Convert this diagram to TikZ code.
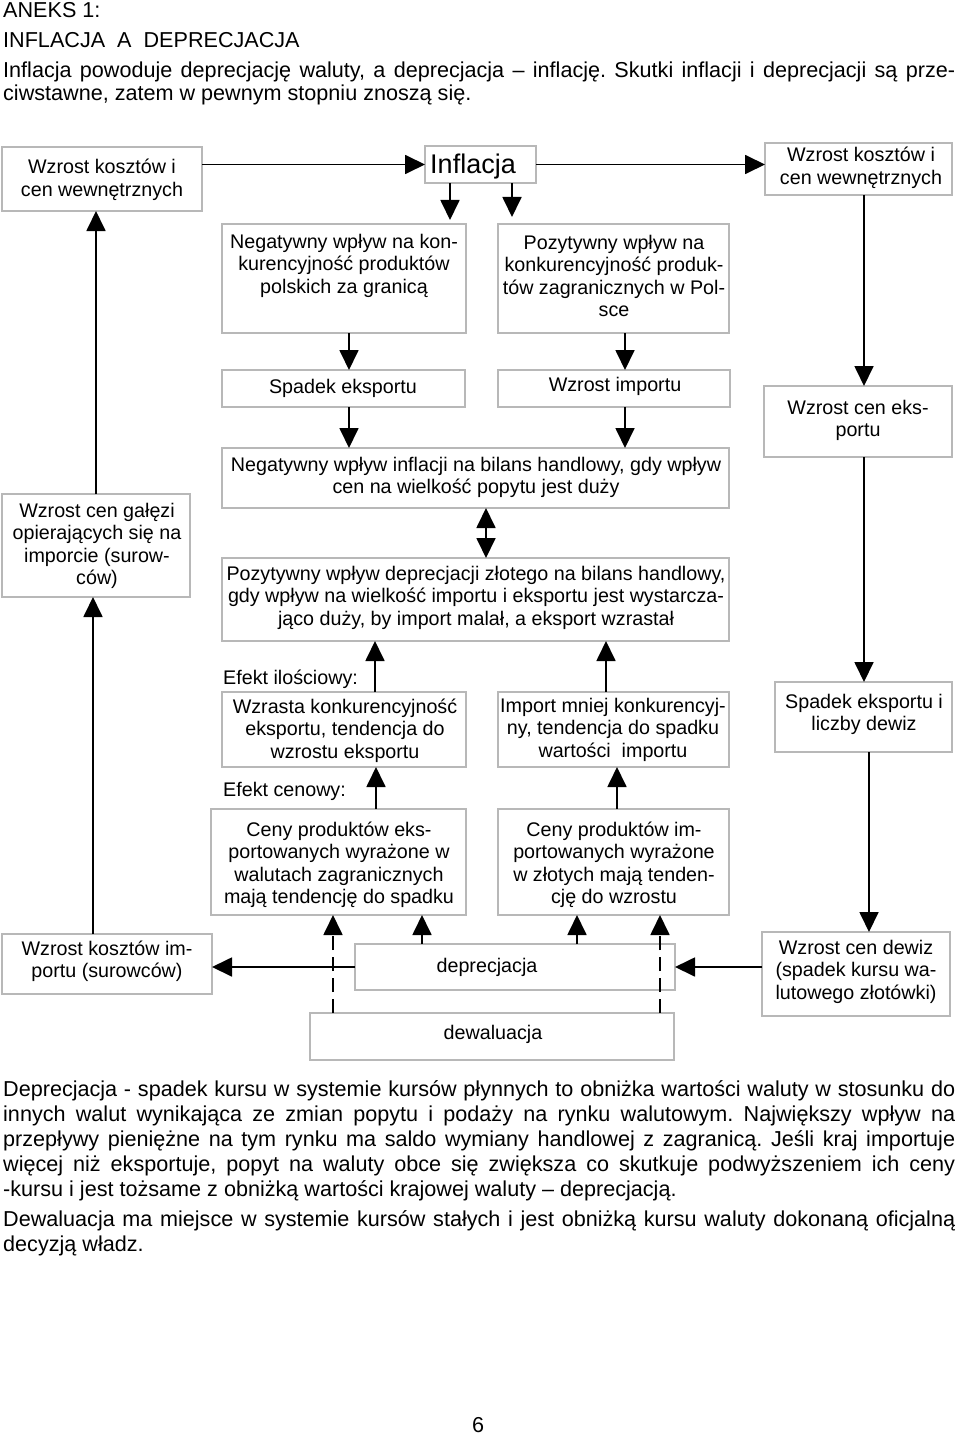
\documentclass[tikz,border=0pt]{standalone}
\usepackage{fontspec}
\setmainfont{Liberation Sans}
\usetikzlibrary{arrows.meta,calc}
\frenchspacing
\newcommand{\mybxfont}{\fontsize{19.7}{22.5}\selectfont}
\newcommand{\myparfont}{\fontsize{21.6}{25}\selectfont}
\newcommand{\bx}[5]{\node[box,minimum width={#4-#2},minimum height={#5-#3}] (#1) at (#2,#3) {};}
\newcommand{\jl}[1]{\makebox[952pt][s]{#1}}
\begin{document}
\begin{tikzpicture}[x=1pt,y=-1pt,
  box/.style={draw=black!28, line width=1.3pt, inner sep=0pt, outer sep=0pt, anchor=north west},
  txt/.style={inner sep=0pt, anchor=base, align=center, font=\mybxfont},
  lbl/.style={inner sep=0pt, anchor=base west, font=\mybxfont},
  ptxt/.style={inner sep=0pt, anchor=base west, font=\myparfont},
  arr/.style={line width=1.8pt, -{Triangle[length=20pt,width=19pt]}},
  darr/.style={line width=1.8pt, {Triangle[length=20pt,width=19pt]}-{Triangle[length=20pt,width=19pt]}},
  dsh/.style={arr, dash pattern=on 14pt off 7pt},
]
\useasboundingbox (0,0) rectangle (960,1434);
\fill[white] (0,0) rectangle (960,1434);

% header
\node[ptxt] (h1) at (3,18) {ANEKS 1:};
\node[ptxt] (h2) at (3,48) {INFLACJA \ A \ DEPRECJACJA};
\node[ptxt] (h3) at (3,78) {\jl{Inflacja powoduje deprecjację waluty, a deprecjacja – inflację. Skutki inflacji i deprecjacji są prze-}};
\node[ptxt] (h4) at (3,101) {ciwstawne, zatem w pewnym stopniu znoszą się.};

% boxes
\bx{A}{2}{147}{202}{211}
\bx{Inf}{425}{146}{536}{183}
\bx{B}{765}{143}{952}{195}
\bx{C}{222}{224}{466}{333}
\bx{D}{498}{224}{729}{333}
\bx{E}{222}{370}{465}{407}
\bx{F}{498}{370}{730}{407}
\bx{G}{222}{448}{729}{508}
\bx{H}{222}{558}{729}{641}
\bx{I}{764}{386}{952}{457}
\bx{J}{2}{494}{190}{597}
\bx{K}{222}{692}{466}{767}
\bx{L}{498}{692}{729}{767}
\bx{M}{775}{682}{952}{752}
\bx{N}{211}{809}{466}{915}
\bx{O}{498}{809}{729}{915}
\bx{P}{2}{934}{212}{994}
\bx{Q}{355}{944}{675}{990}
\bx{R}{762}{932}{950}{1016}
\bx{S}{310}{1013}{674}{1060}

% texts (anchor base = baseline of the last line)
\node[txt] (tA) at (102,196.5) {Wzrost kosztów i\\cen wewnętrznych};
\node[inner sep=0pt, anchor=base, font=\fontsize{27}{30}\selectfont] (tInf) at (473,174) {Inflacja};
\node[txt] (tB) at (861,184.5) {Wzrost kosztów i\\cen wewnętrznych};
\node[txt] (tC) at (344,293) {Negatywny wpływ na kon-\\kurencyjność produktów\\polskich za granicą};
\node[txt] (tD) at (614,316.5) {Pozytywny wpływ na\\konkurencyjność produk-\\tów zagranicznych w Pol-\\sce};
\node[txt] (tE) at (343,393) {Spadek eksportu};
\node[txt] (tF) at (615,391) {Wzrost importu};
\node[txt] (tG) at (476,493.5) {Negatywny wpływ inflacji na bilans handlowy, gdy wpływ\\cen na wielkość popytu jest duży};
\node[txt] (tH) at (476,625) {Pozytywny wpływ deprecjacji złotego na bilans handlowy,\\gdy wpływ na wielkość importu i eksportu jest wystarcza-\\jąco duży, by import malał, a eksport wzrastał};
\node[txt] (tI) at (858,436.5) {Wzrost cen eks-\\portu};
\node[txt] (tJ) at (97,584.5) {Wzrost cen gałęzi\\opierających się na\\imporcie (surow-\\ców)};
\node[lbl] (eI) at (223,684) {Efekt ilościowy:};
\node[txt] (tK) at (345,758) {Wzrasta konkurencyjność\\eksportu, tendencja do\\wzrostu eksportu};
\node[txt] (tL) at (613,757) {Import mniej konkurencyj-\\ny, tendencja do spadku\\wartości \ importu};
\node[txt] (tM) at (864,730.5) {Spadek eksportu i\\liczby dewiz};
\node[lbl] (eC) at (223,796) {Efekt cenowy:};
\node[txt] (tN) at (339,903.5) {Ceny produktów eks-\\portowanych wyrażone w\\walutach zagranicznych\\mają tendencję do spadku};
\node[txt] (tO) at (614,903.5) {Ceny produktów im-\\portowanych wyrażone\\w złotych mają tenden-\\cję do wzrostu};
\node[txt] (tP) at (107,977.5) {Wzrost kosztów im-\\portu (surowców)};
\node[txt] (tQ) at (487,972) {deprecjacja};
\node[txt] (tR) at (856,999) {Wzrost cen dewiz\\(spadek kursu wa-\\lutowego złotówki)};
\node[txt] (tS) at (493,1039) {dewaluacja};

% connectors
\draw[arr] (A.east |- Inf.west) -- (Inf.west);
\draw[arr] (Inf.east) -- (Inf.east -| B.west);
\draw[arr, shorten >=4pt] (Inf.south -| 450,0) -- (C.north -| 450,0);
\draw[arr, shorten >=7pt] (Inf.south -| 512,0) -- (D.north -| 512,0);
\draw[arr] (C.south -| 349,0) -- (E.north -| 349,0);
\draw[arr] (D.south -| 625,0) -- (F.north -| 625,0);
\draw[arr] (E.south -| 349,0) -- (G.north -| 349,0);
\draw[arr] (F.south -| 625,0) -- (G.north -| 625,0);
\draw[darr] (G.south -| 486,0) -- (H.north -| 486,0);
\draw[arr] (B.south -| 864,0) -- (I.north -| 864,0);
\draw[arr] (I.south -| 864,0) -- (M.north -| 864,0);
\draw[arr] (M.south -| 869,0) -- (R.north -| 869,0);
\draw[arr] (R.west |- Q.east) -- (Q.east);
\draw[arr] (Q.west) -- (Q.west -| P.east);
\draw[arr] (P.north -| 93,0) -- (J.south -| 93,0);
\draw[arr] (J.north -| 96,0) -- (A.south -| 96,0);
\draw[arr] (K.north -| 375,0) -- (H.south -| 375,0);
\draw[arr] (L.north -| 606,0) -- (H.south -| 606,0);
\draw[arr] (N.north -| 376,0) -- (K.south -| 376,0);
\draw[arr] (O.north -| 617,0) -- (L.south -| 617,0);
\draw[arr] (Q.north -| 422,0) -- (N.south -| 422,0);
\draw[arr] (Q.north -| 577,0) -- (O.south -| 577,0);
\draw[dsh] (S.north -| 333,0) -- (N.south -| 333,0);
\draw[dsh] (S.north -| 660,0) -- (O.south -| 660,0);

% bottom paragraph
\node[ptxt] (p1) at (3,1096) {\jl{Deprecjacja - spadek kursu w systemie kursów płynnych to obniżka wartości waluty w stosunku do}};
\node[ptxt] (p2) at (3,1121) {\jl{innych walut wynikająca ze zmian popytu i podaży na rynku walutowym. Największy wpływ na}};
\node[ptxt] (p3) at (3,1146) {\jl{przepływy pieniężne na tym rynku ma saldo wymiany handlowej z zagranicą. Jeśli kraj importuje}};
\node[ptxt] (p4) at (3,1171) {\jl{więcej niż eksportuje, popyt na waluty obce się zwiększa co skutkuje podwyższeniem ich ceny}};
\node[ptxt] (p5) at (3,1196) {-kursu i jest tożsame z obniżką wartości krajowej waluty – deprecjacją.};
\node[ptxt] (p6) at (3,1226) {\jl{Dewaluacja ma miejsce w systemie kursów stałych i jest obniżką kursu waluty dokonaną oficjalną}};
\node[ptxt] (p7) at (3,1251) {decyzją władz.};
\node[inner sep=0pt, anchor=base, font=\myparfont] (pg) at (478,1432) {6};
\end{tikzpicture}
\end{document}
